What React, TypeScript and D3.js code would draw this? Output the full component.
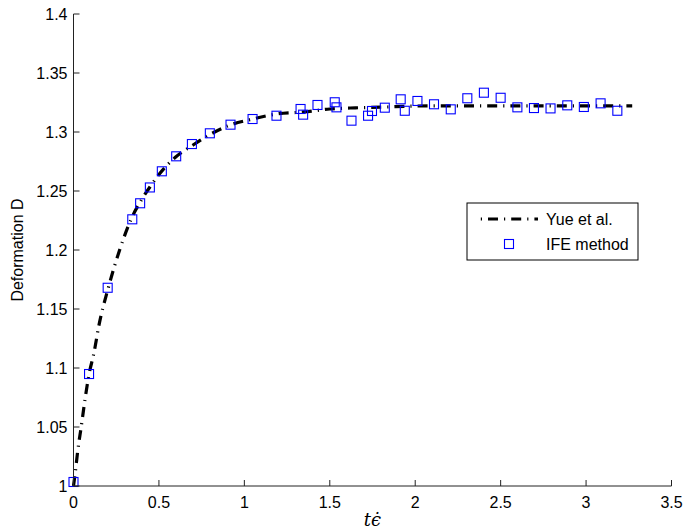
import React from "react";
import * as d3 from "d3";

// Reference curve (Yue et al.)
const curveT = [0, 0.01, 0.025, 0.045, 0.067, 0.09, 0.12, 0.15, 0.2, 0.27, 0.34, 0.4, 0.45, 0.5, 0.6, 0.7, 0.8, 0.9, 1.05, 1.2, 1.35, 1.5, 1.65, 1.8, 2.0, 2.3, 2.6, 3.0, 3.27];
const curveD = [1.0, 1.011, 1.03, 1.05, 1.073, 1.094, 1.113, 1.137, 1.166, 1.2, 1.227, 1.243, 1.254, 1.264, 1.279, 1.289, 1.298, 1.305, 1.311, 1.3155, 1.317, 1.3195, 1.3205, 1.321, 1.322, 1.3222, 1.3222, 1.3222, 1.3222];

// IFE method samples
const ifeT = [0, 0.091, 0.2, 0.344, 0.39, 0.447, 0.517, 0.601, 0.693, 0.798, 0.919, 1.048, 1.188, 1.329, 1.344, 1.428, 1.529, 1.539, 1.627, 1.724, 1.747, 1.822, 1.915, 1.939, 2.013, 2.11, 2.208, 2.305, 2.402, 2.5, 2.598, 2.695, 2.792, 2.89, 2.987, 3.085, 3.183];
const ifeD = [1.0034, 1.0949, 1.168, 1.226, 1.2396, 1.253, 1.2667, 1.2794, 1.2898, 1.2989, 1.3062, 1.311, 1.3138, 1.3195, 1.3147, 1.3229, 1.3252, 1.3209, 1.3096, 1.3138, 1.3178, 1.3206, 1.3277, 1.318, 1.3263, 1.3235, 1.3192, 1.3286, 1.3333, 1.329, 1.3209, 1.3203, 1.32, 1.3226, 1.3212, 1.3243, 1.318];

const xTicks = [0, 0.5, 1, 1.5, 2, 2.5, 3, 3.5];
const xTickLabels = ["0", "0.5", "1", "1.5", "2", "2.5", "3", "3.5"];
const yTicks = [1, 1.05, 1.1, 1.15, 1.2, 1.25, 1.3, 1.35, 1.4];
const yTickLabels = ["1", "1.05", "1.1", "1.15", "1.2", "1.25", "1.3", "1.35", "1.4"];

const W = 684;
const H = 531;
const left = 73.5;
const right = 671.5;
const top = 14;
const bottom = 486;

const font = "'Liberation Sans', Arial, Helvetica, sans-serif";

export default function App() {
  const x = d3.scaleLinear().domain([0, 3.5]).range([left, right]);
  const y = d3.scaleLinear().domain([1, 1.4]).range([bottom, top]);

  const line = d3
    .line<number>()
    .x((_, i) => x(curveT[i]))
    .y((d) => y(d))
    .curve(d3.curveMonotoneX);

  const dash = "10,6,1.2,6";
  const ms = 9;

  return (
    <svg
      width={W}
      height={H}
      style={{ position: "absolute", left: 0, top: 0, background: "#fff" }}
      fontFamily={font}
    >
      <rect x={0} y={0} width={W} height={H} fill="#fff" />

      {/* curve */}
      <path
        d={line(curveD) || ""}
        fill="none"
        stroke="#000"
        strokeWidth={3.2}
        strokeDasharray={dash}
      />

      {/* IFE markers */}
      {ifeT.map((t, i) => (
        <rect
          key={i}
          x={x(t) - ms / 2}
          y={y(ifeD[i]) - ms / 2}
          width={ms}
          height={ms}
          fill="none"
          stroke="#0000ff"
          strokeWidth={1.1}
        />
      ))}

      {/* axes */}
      <line x1={left} x2={left} y1={top} y2={bottom} stroke="#222" strokeWidth={1} />
      <line x1={left} x2={right} y1={bottom} y2={bottom} stroke="#222" strokeWidth={1} />

      {xTicks.map((t, i) => (
        <g key={"x" + i}>
          <line x1={x(t)} x2={x(t)} y1={bottom} y2={bottom - 6} stroke="#222" strokeWidth={1} />
          <text x={x(t)} y={bottom + 22} textAnchor="middle" fontSize={16} fill="#000">
            {xTickLabels[i]}
          </text>
        </g>
      ))}
      {yTicks.map((t, i) => (
        <g key={"y" + i}>
          <line x1={left} x2={left + 6} y1={y(t)} y2={y(t)} stroke="#222" strokeWidth={1} />
          <text x={left - 6} y={y(t) + 5.5} textAnchor="end" fontSize={16} fill="#000">
            {yTickLabels[i]}
          </text>
        </g>
      ))}

      {/* axis titles */}
      <text
        transform={`translate(23, ${(top + bottom) / 2}) rotate(-90)`}
        textAnchor="middle"
        fontSize={16}
        fill="#000"
      >
        Deformation D
      </text>
      <text
        x={(left + right) / 2}
        y={526}
        textAnchor="middle"
        fontSize={18}
        fontStyle="italic"
        fontFamily="'DejaVu Serif', 'Liberation Serif', serif"
        fill="#000"
      >
        {"t\u03F5\u0307"}
      </text>

      {/* legend */}
      <g>
        <rect x={467} y={203} width={171} height={57} fill="#fff" stroke="#000" strokeWidth={1} />
        <line x1={478} x2={538} y1={219} y2={219} stroke="#000" strokeWidth={3.2} strokeDasharray={dash} strokeDashoffset={-10} />
        <text x={546} y={225} fontSize={16} fill="#000">Yue et al.</text>
        <rect x={509 - ms / 2} y={244 - ms / 2} width={ms} height={ms} fill="none" stroke="#0000ff" strokeWidth={1.1} />
        <text x={546} y={250} fontSize={16} fill="#000">IFE method</text>
      </g>
    </svg>
  );
}
